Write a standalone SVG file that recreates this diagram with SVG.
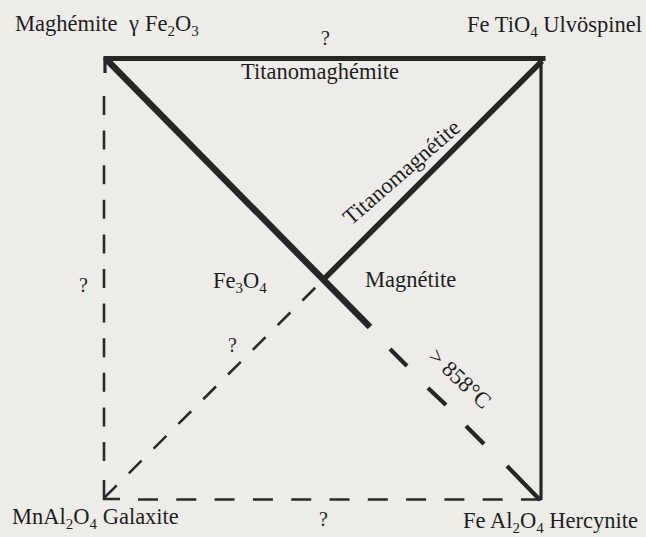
<svg xmlns="http://www.w3.org/2000/svg" width="646" height="537" viewBox="0 0 646 537">
<style>
text{font-family:"Liberation Serif","Times New Roman",serif;fill:#1e1e1e;font-size:22.5px}
.q{font-size:20px}
.sub{font-size:15px}
.thick{stroke:#262626;fill:none;stroke-linecap:square}
.dash{stroke:#2a2a2a;fill:none;stroke-width:2.6}
</style>
<rect width="646" height="537" fill="#eeece9"/>
<g id="connectors">
  <line class="thick" x1="106" y1="58.5" x2="543" y2="58.5" stroke-width="5"/>
  <line class="thick" x1="541" y1="60" x2="541" y2="500" stroke-width="3.2" style="stroke-linecap:butt"/>
  <line class="thick" x1="106" y1="59" x2="370" y2="327" stroke-width="6.5" style="stroke-linecap:butt"/>
  <line class="thick" x1="542" y1="61" x2="322" y2="281" stroke-width="5.5" style="stroke-linecap:butt"/>
  <line class="thick" x1="105" y1="57" x2="105" y2="73" stroke-width="3.2" style="stroke-linecap:butt"/>
  <g stroke="#262626" stroke-width="4.2">
    <line x1="390" y1="349" x2="407" y2="366"/>
    <line x1="428" y1="388" x2="446" y2="405"/>
    <line x1="466" y1="426" x2="484" y2="444"/>
    <line x1="507" y1="466" x2="540" y2="500"/>
  </g>
  <line class="dash" x1="104" y1="96" x2="104" y2="461" stroke-dasharray="19 15.6"/>
  <polyline class="dash" points="104,480 104,499 120,499"/>
  <line class="dash" x1="104" y1="498" x2="323" y2="280" stroke-dasharray="18 17"/>
  <line class="dash" x1="138" y1="499.5" x2="541" y2="499.5" stroke-dasharray="20 18.3"/>
</g>
<g id="maghemite"><text x="15" y="31">Maghémite<tspan x="129">γ</tspan><tspan x="145">Fe</tspan><tspan class="sub" dy="5">2</tspan><tspan dy="-5">O</tspan><tspan class="sub" dy="5">3</tspan></text></g>
<g id="ulvospinel"><text x="467" y="32">Fe TiO<tspan class="sub" dy="5">4</tspan><tspan dy="-5"> Ulvöspinel</tspan></text></g>
<g id="galaxite"><text x="12" y="524">MnAl<tspan class="sub" dy="5">2</tspan><tspan dy="-5">O</tspan><tspan class="sub" dy="5">4</tspan><tspan dy="-5"> Galaxite</tspan></text></g>
<g id="hercynite"><text x="463" y="528">Fe Al<tspan class="sub" dy="5">2</tspan><tspan dy="-5">O</tspan><tspan class="sub" dy="5">4</tspan><tspan dy="-5"> Hercynite</tspan></text></g>
<g id="titanomaghemite"><text x="241" y="79">Titanomaghémite</text></g>
<g id="titanomagnetite"><text transform="translate(351,226) rotate(-41)">Titanomagnétite</text></g>
<g id="magnetite"><text x="213" y="288">Fe<tspan class="sub" dy="5">3</tspan><tspan dy="-5">O</tspan><tspan class="sub" dy="5">4</tspan></text><text x="365" y="287">Magnétite</text></g>
<g id="temp"><text transform="translate(427,358) rotate(43)">&gt; 858°C</text></g>
<g id="questions">
  <text class="q" x="321" y="45">?</text>
  <text class="q" x="79" y="292">?</text>
  <text class="q" x="228" y="352">?</text>
  <text class="q" x="319" y="526">?</text>
</g>
</svg>
